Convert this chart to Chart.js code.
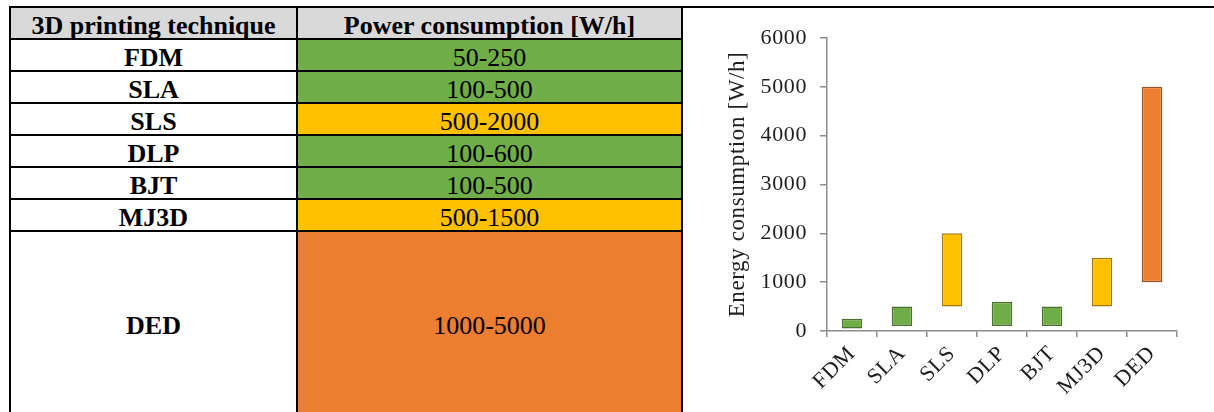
<!DOCTYPE html>
<html>
<head>
<meta charset="utf-8">
<title>3D printing power consumption</title>
<script src="https://cdn.jsdelivr.net/npm/chart.js@4/dist/chart.umd.min.js"></script>
<style>
  html, body { margin: 0; padding: 0; background: #ffffff; }
  #stage { position: relative; width: 1214px; height: 412px; overflow: hidden; background: #ffffff; }
  .cell { position: absolute; display: flex; align-items: center; justify-content: center;
          font-family: 'Liberation Serif', 'Times New Roman', serif; font-size: 26px; color: #000; white-space: nowrap; }
  .cell span { position: relative; top: 3px; }
  .bold { font-weight: bold; }
  .rule { position: absolute; background: #000; }
  #chartBox { position: absolute; left: 690px; top: 0; width: 524px; height: 412px; }
</style>
</head>
<body>
<div id="stage">
  <div id="chartBox"><canvas id="chart" width="524" height="412"></canvas></div>
</div>
<script>
// ---- data ----
const techniques = ['FDM', 'SLA', 'SLS', 'DLP', 'BJT', 'MJ3D', 'DED'];
const powerMin = [50, 100, 500, 100, 100, 500, 1000];
const powerMax = [250, 500, 2000, 600, 500, 1500, 5000];
const demandTier = ['low', 'low', 'medium', 'low', 'low', 'medium', 'high'];
const tableHeaders = ['3D printing technique', 'Power consumption [W/h]'];
const yTickValues = [0, 1000, 2000, 3000, 4000, 5000, 6000];
const yAxisTitle = 'Energy consumption [W/h]';

// ---- styling ----
const tierFill = { low: '#70ad47', medium: '#ffc000', high: '#ed7d31' };
const tierEdge = { low: '#4a6f31', medium: '#a07a10', high: '#9a5226' };
const HEADER_FILL = '#d9d9d9';
const AXIS_GREY = '#8c8c8c';
const TEXT_DARK = '#1e1e1e';
const SERIF = "'Liberation Serif', 'Times New Roman', serif";

// ---- table ----
const stage = document.getElementById('stage');
const colX = [10, 297, 682];          // vertical rule centres
const headerTop = 7, headerBottom = 38.5, rowH = 32.1, tableBottom = 414;

function addCell(x0, x1, y0, y1, text, bg, bold) {
  const d = document.createElement('div');
  d.className = 'cell' + (bold ? ' bold' : '');
  d.style.left = x0 + 'px';
  d.style.top = y0 + 'px';
  d.style.width = (x1 - x0) + 'px';
  d.style.height = (y1 - y0) + 'px';
  if (bg) d.style.background = bg;
  const s = document.createElement('span');
  s.textContent = text;
  d.appendChild(s);
  stage.appendChild(d);
}
function addRule(x, y, w, h) {
  const r = document.createElement('div');
  r.className = 'rule';
  r.style.left = x + 'px';
  r.style.top = y + 'px';
  r.style.width = w + 'px';
  r.style.height = h + 'px';
  stage.appendChild(r);
}

// header
addCell(colX[0], colX[1], headerTop, headerBottom, tableHeaders[0], HEADER_FILL, true);
addCell(colX[1], colX[2], headerTop, headerBottom, tableHeaders[1], HEADER_FILL, true);

// body rows
const rowEdges = [headerTop, headerBottom];
techniques.forEach((name, i) => {
  const y0 = headerBottom + i * rowH;
  const y1 = i === techniques.length - 1 ? tableBottom : y0 + rowH;
  addCell(colX[0], colX[1], y0, y1, name, '#ffffff', true);
  addCell(colX[1], colX[2], y0, y1, powerMin[i] + '-' + powerMax[i], tierFill[demandTier[i]], false);
  if (i < techniques.length - 1) rowEdges.push(y1);
});

// rules
addRule(colX[0] - 1, headerTop - 1, 1214 - colX[0] + 1, 2);   // top rule runs across the page
rowEdges.slice(1).forEach(y => addRule(colX[0] - 1, y - 1, colX[2] - colX[0] + 2, 2));
colX.forEach(x => addRule(x - 1, headerTop - 1, 2, tableBottom));

// ---- chart ----
const spacing = {
  id: 'serifSpacing',
  beforeLayout(chart) { chart.ctx.letterSpacing = '0.6px'; },
  beforeDraw(chart) { chart.ctx.letterSpacing = '0.6px'; }
};

const tickFont = { family: SERIF, size: 22 };

new Chart(document.getElementById('chart'), {
  type: 'bar',
  data: {
    labels: techniques,
    datasets: [{
      data: techniques.map((_, i) => [powerMin[i], powerMax[i]]),
      backgroundColor: demandTier.map(t => tierFill[t]),
      borderColor: demandTier.map(t => tierEdge[t]),
      borderWidth: 1.5,
      borderSkipped: false,
      barPercentage: 0.41,
      categoryPercentage: 1
    }]
  },
  options: {
    responsive: false,
    animation: false,
    devicePixelRatio: 1,
    layout: { padding: { top: 38, right: 37, left: 0, bottom: 0 } },
    plugins: { legend: { display: false }, tooltip: { enabled: false } },
    scales: {
      x: {
        offset: true,
        grid: { display: true, drawOnChartArea: false, drawTicks: true, tickLength: 6, color: AXIS_GREY, lineWidth: 1.5, offset: true },
        border: { display: true, color: AXIS_GREY, width: 1.5 },
        ticks: { font: tickFont, color: TEXT_DARK, minRotation: 45, maxRotation: 45, autoSkip: false, padding: 4 },
        afterFit(s) { s.height = 81; }
      },
      y: {
        min: 0,
        max: 6000,
        afterBuildTicks(s) { s.ticks = yTickValues.map(v => ({ value: v })); },
        grid: { display: true, drawOnChartArea: false, drawTicks: true, tickLength: 7, color: AXIS_GREY, lineWidth: 1.5 },
        border: { display: true, color: AXIS_GREY, width: 1.5 },
        ticks: { font: tickFont, color: TEXT_DARK, padding: 13, callback: v => String(v) },
        title: { display: true, text: yAxisTitle, font: { family: SERIF, size: 23 }, color: TEXT_DARK, padding: { top: 34, bottom: 0 } },
        afterFit(s) { s.width = 137; }
      }
    }
  },
  plugins: [spacing]
});
</script>
</body>
</html>
